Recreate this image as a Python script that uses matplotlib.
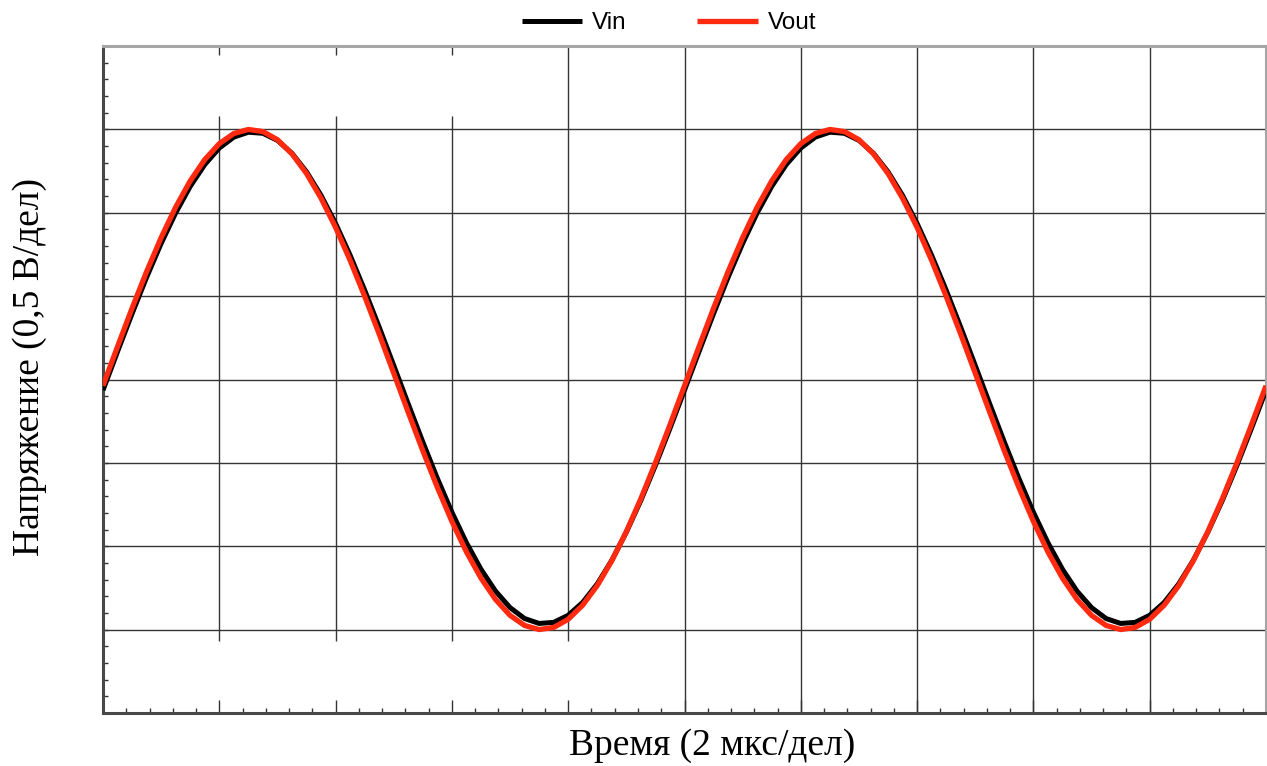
import numpy as np
import matplotlib
matplotlib.use("Agg")
import matplotlib.pyplot as plt
from matplotlib.ticker import MultipleLocator, NullFormatter

# ---- data (divisions; x: 2 us/div, y: 0.5 V/div, 0..8 with centre at 4) ----
t_div = [i * 0.125 for i in range(81)]

vout_div = [
    3.925, 4.395, 4.855, 5.294, 5.702, 6.068, 6.382, 6.638, 6.829, 6.950,
    6.999, 6.974, 6.876, 6.706, 6.471, 6.174, 5.824, 5.429, 4.998, 4.544,
    4.075, 3.605, 3.145, 2.706, 2.298, 1.932, 1.618, 1.362, 1.171, 1.050,
    1.001, 1.026, 1.124, 1.294, 1.529, 1.826, 2.176, 2.571, 3.002, 3.456,
    3.925, 4.395, 4.855, 5.294, 5.702, 6.068, 6.382, 6.638, 6.829, 6.950,
    6.999, 6.974, 6.876, 6.706, 6.471, 6.174, 5.824, 5.429, 4.998, 4.544,
    4.075, 3.605, 3.145, 2.706, 2.298, 1.932, 1.618, 1.362, 1.171, 1.050,
    1.001, 1.026, 1.124, 1.294, 1.529, 1.826, 2.176, 2.571, 3.002, 3.456,
    3.925,
]

vin_div = [
    3.872, 4.335, 4.790, 5.226, 5.632, 5.998, 6.316, 6.578, 6.776, 6.907,
    6.966, 6.953, 6.868, 6.713, 6.491, 6.208, 5.871, 5.490, 5.071, 4.627,
    4.168, 3.705, 3.250, 2.814, 2.408, 2.042, 1.724, 1.462, 1.264, 1.133,
    1.074, 1.087, 1.172, 1.327, 1.549, 1.832, 2.169, 2.550, 2.969, 3.413,
    3.872, 4.335, 4.790, 5.226, 5.632, 5.998, 6.316, 6.578, 6.776, 6.907,
    6.966, 6.953, 6.868, 6.713, 6.491, 6.208, 5.871, 5.490, 5.071, 4.627,
    4.168, 3.705, 3.250, 2.814, 2.408, 2.042, 1.724, 1.462, 1.264, 1.133,
    1.074, 1.087, 1.172, 1.327, 1.549, 1.832, 2.169, 2.550, 2.969, 3.413,
    3.872,
]

series_labels = ["Vin", "Vout"]
x_label = "Время (2 мкс/дел)"
y_label = "Напряжение (0,5 В/дел)"

# ---- figure ----
W, H, DPI = 1267, 766, 100
fig = plt.figure(figsize=(W / DPI, H / DPI), dpi=DPI)
ax = fig.add_axes([103 / W, (H - 713) / H, (1266 - 103) / W, 667 / H])
ax.set_xlim(0, 10)
ax.set_ylim(0, 8)

grid_c = "#353535"
# horizontal grid lines
ax.hlines([1, 2, 3, 4, 5, 6, 7], 0, 10, colors=grid_c, lw=1.0, zorder=1)
# vertical grid lines (first ones are broken near the frame, as in the reference)
for xv in [1, 2, 3]:
    ax.vlines(xv, 0.86, 7.16, colors=grid_c, lw=1.0, zorder=1)
    ax.vlines(xv, 8 - 0.11, 8, colors=grid_c, lw=1.0, zorder=1)
ax.vlines(4, 0.86, 8, colors=grid_c, lw=1.0, zorder=1)
for xv in [5, 6, 7, 8, 9]:
    ax.vlines(xv, 0, 8, colors=grid_c, lw=1.0, zorder=1)

# curves
ax.plot(t_div, vin_div, color="black", lw=3.6, label=series_labels[0], zorder=3,
        solid_joinstyle="round", solid_capstyle="butt")
ax.plot(t_div, vout_div, color="#ff2a0f", lw=3.8, label=series_labels[1], zorder=4,
        solid_joinstyle="round", solid_capstyle="butt")

# ticks
ax.xaxis.set_major_locator(MultipleLocator(1))
ax.xaxis.set_minor_locator(MultipleLocator(0.2))
ax.yaxis.set_major_locator(MultipleLocator(1))
ax.yaxis.set_minor_locator(MultipleLocator(0.2))
ax.xaxis.set_major_formatter(NullFormatter())
ax.yaxis.set_major_formatter(NullFormatter())
ax.tick_params(axis="x", which="major", direction="in", length=9.5, width=1.0,
               color="#333333", bottom=True, top=False)
ax.tick_params(axis="x", which="minor", direction="in", length=3.6, width=1.0,
               color="#333333", bottom=True, top=False)
ax.tick_params(axis="y", which="major", direction="in", length=3.6, width=1.0,
               color="#333333", left=True, right=False)
ax.tick_params(axis="y", which="minor", direction="in", length=3.6, width=1.0,
               color="#333333", left=True, right=False)

# spines
for s in ["left", "bottom"]:
    ax.spines[s].set_color("#484848")
    ax.spines[s].set_linewidth(2.2)
for s in ["top", "right"]:
    ax.spines[s].set_color("#a5a5a5")
    ax.spines[s].set_linewidth(2.2)

# labels
serif = ["Liberation Serif", "DejaVu Serif"]
fig.text(30 / W, 1 - 367 / H, y_label, rotation=90, ha="center", va="center",
         fontsize=27, family=serif)
fig.text(712 / W, 1 - 746 / H, x_label, ha="center", va="center",
         fontsize=27, family=serif)

# legend
fig.legend(loc="center", bbox_to_anchor=(669 / W, 1 - 23 / H), ncol=2,
           frameon=False, handlelength=2.5, handletextpad=0.4,
           columnspacing=2.9,
           prop={"family": ["Liberation Sans", "DejaVu Sans"], "size": 17.5})

fig.savefig("out.png", dpi=DPI)
